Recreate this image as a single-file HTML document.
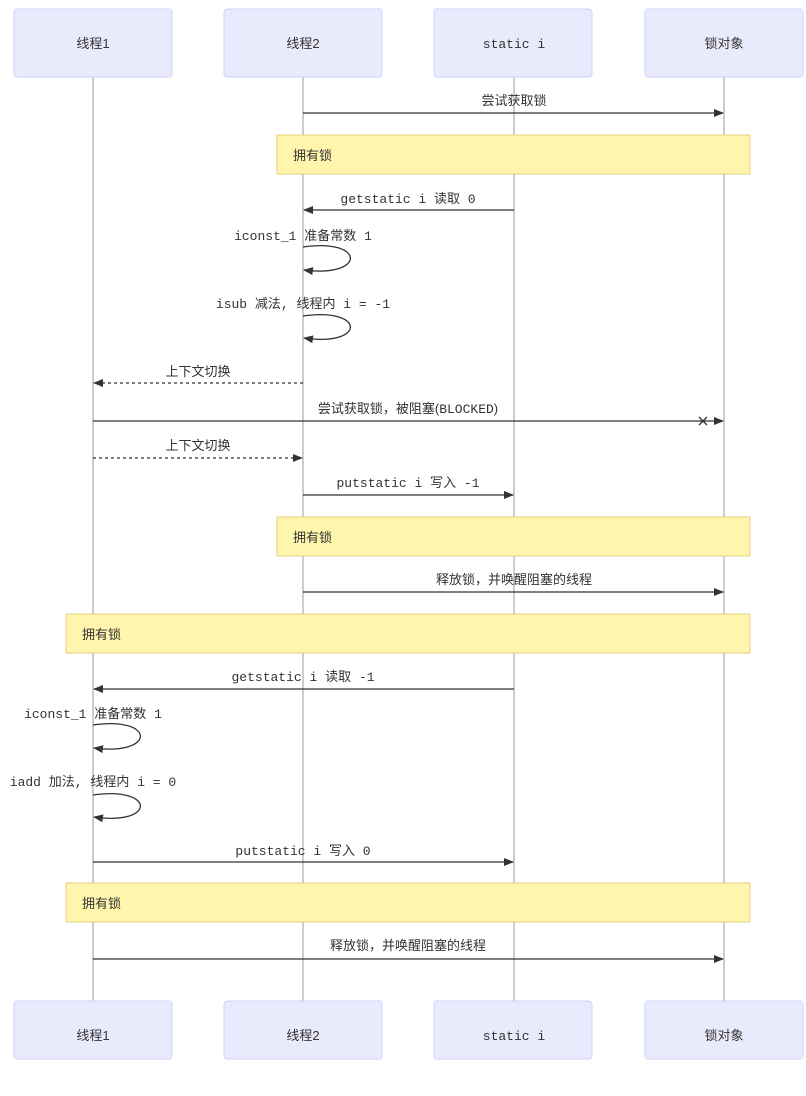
<!DOCTYPE html>
<html><head><meta charset="utf-8"><style>
html,body{margin:0;padding:0;background:#fff;}
svg{display:block;}
text{font-family:"Liberation Sans","Noto Sans CJK SC",sans-serif;font-size:13px;fill:#333;}
.m{font-family:"Liberation Mono","Noto Sans CJK SC",monospace;font-size:13px;}
</style></head><body>
<svg width="806" height="1096" viewBox="0 0 806 1096" xmlns="http://www.w3.org/2000/svg">
<defs>
<marker id="a" markerWidth="10" markerHeight="8" refX="9" refY="4" orient="auto" markerUnits="userSpaceOnUse"><path d="M0,0 L10,4 L0,8 z" fill="#333"/></marker>
</defs>
<g stroke="#999" stroke-width="1">
<line x1="93" y1="77" x2="93" y2="1001"/><line x1="303" y1="77" x2="303" y2="1001"/>
<line x1="514" y1="77" x2="514" y2="1001"/><line x1="724" y1="77" x2="724" y2="1001"/>
</g>
<g fill="#eaeafd" stroke="#d2d2fb" stroke-width="1">
<rect x="14" y="9" width="158" height="68" rx="3"/><rect x="224" y="9" width="158" height="68" rx="3"/>
<rect x="434" y="9" width="158" height="68" rx="3"/><rect x="645" y="9" width="158" height="68" rx="3"/>
<rect x="14" y="1001" width="158" height="58" rx="3"/><rect x="224" y="1001" width="158" height="58" rx="3"/>
<rect x="434" y="1001" width="158" height="58" rx="3"/><rect x="645" y="1001" width="158" height="58" rx="3"/>
</g>
<g text-anchor="middle">
<text x="93" y="48">线程1</text><text x="303" y="48">线程2</text><text class="m" x="514" y="48">static i</text><text x="724" y="48">锁对象</text>
<text x="93" y="1040">线程1</text><text x="303" y="1040">线程2</text><text class="m" x="514" y="1040">static i</text><text x="724" y="1040">锁对象</text>
</g>
<g fill="#fff5ad" stroke="#e6d280" stroke-width="1">
<rect x="277" y="135" width="473" height="39"/><rect x="277" y="517" width="473" height="39"/>
<rect x="66" y="614" width="684" height="39"/><rect x="66" y="883" width="684" height="39"/>
</g>
<text x="293" y="160">拥有锁</text><text x="293" y="542">拥有锁</text>
<text x="82" y="639">拥有锁</text><text x="82" y="908">拥有锁</text>
<g stroke="#333" stroke-width="1.3" fill="none">
<line x1="303" y1="113" x2="723" y2="113" marker-end="url(#a)"/>
<line x1="514" y1="210" x2="304" y2="210" marker-end="url(#a)"/>
<path d="M303,247 C366,238 366,278 304,270" marker-end="url(#a)"/>
<path d="M303,316 C366,307 366,347 304,338" marker-end="url(#a)"/>
<line x1="303" y1="383" x2="94" y2="383" stroke-dasharray="3,3" marker-end="url(#a)"/>
<line x1="93" y1="421" x2="723" y2="421" marker-end="url(#a)"/>
<path d="M699,417 L707,425 M707,417 L699,425"/>
<line x1="93" y1="458" x2="302" y2="458" stroke-dasharray="3,3" marker-end="url(#a)"/>
<line x1="303" y1="495" x2="513" y2="495" marker-end="url(#a)"/>
<line x1="303" y1="592" x2="723" y2="592" marker-end="url(#a)"/>
<line x1="514" y1="689" x2="94" y2="689" marker-end="url(#a)"/>
<path d="M93,725 C156,716 156,756 94,748" marker-end="url(#a)"/>
<path d="M93,795 C156,786 156,826 94,817" marker-end="url(#a)"/>
<line x1="93" y1="862" x2="513" y2="862" marker-end="url(#a)"/>
<line x1="93" y1="959" x2="723" y2="959" marker-end="url(#a)"/>
</g>
<g text-anchor="middle">
<text x="514" y="105">尝试获取锁</text>
<text class="m" x="408" y="203">getstatic i 读取 0</text>
<text class="m" x="303" y="240">iconst_1 准备常数 1</text>
<text class="m" x="303" y="308">isub 减法, 线程内 i = -1</text>
<text x="198" y="376">上下文切换</text>
<text x="408" y="413">尝试获取锁，被阻塞(<tspan class="m" font-size="12">BLOCKED</tspan>)</text>
<text x="198" y="450">上下文切换</text>
<text class="m" x="408" y="487">putstatic i 写入 -1</text>
<text x="514" y="584">释放锁，并唤醒阻塞的线程</text>
<text class="m" x="303" y="681">getstatic i 读取 -1</text>
<text class="m" x="93" y="718">iconst_1 准备常数 1</text>
<text class="m" x="93" y="786">iadd 加法, 线程内 i = 0</text>
<text class="m" x="303" y="855">putstatic i 写入 0</text>
<text x="408" y="950">释放锁，并唤醒阻塞的线程</text>
</g>
</svg>
</body></html>
